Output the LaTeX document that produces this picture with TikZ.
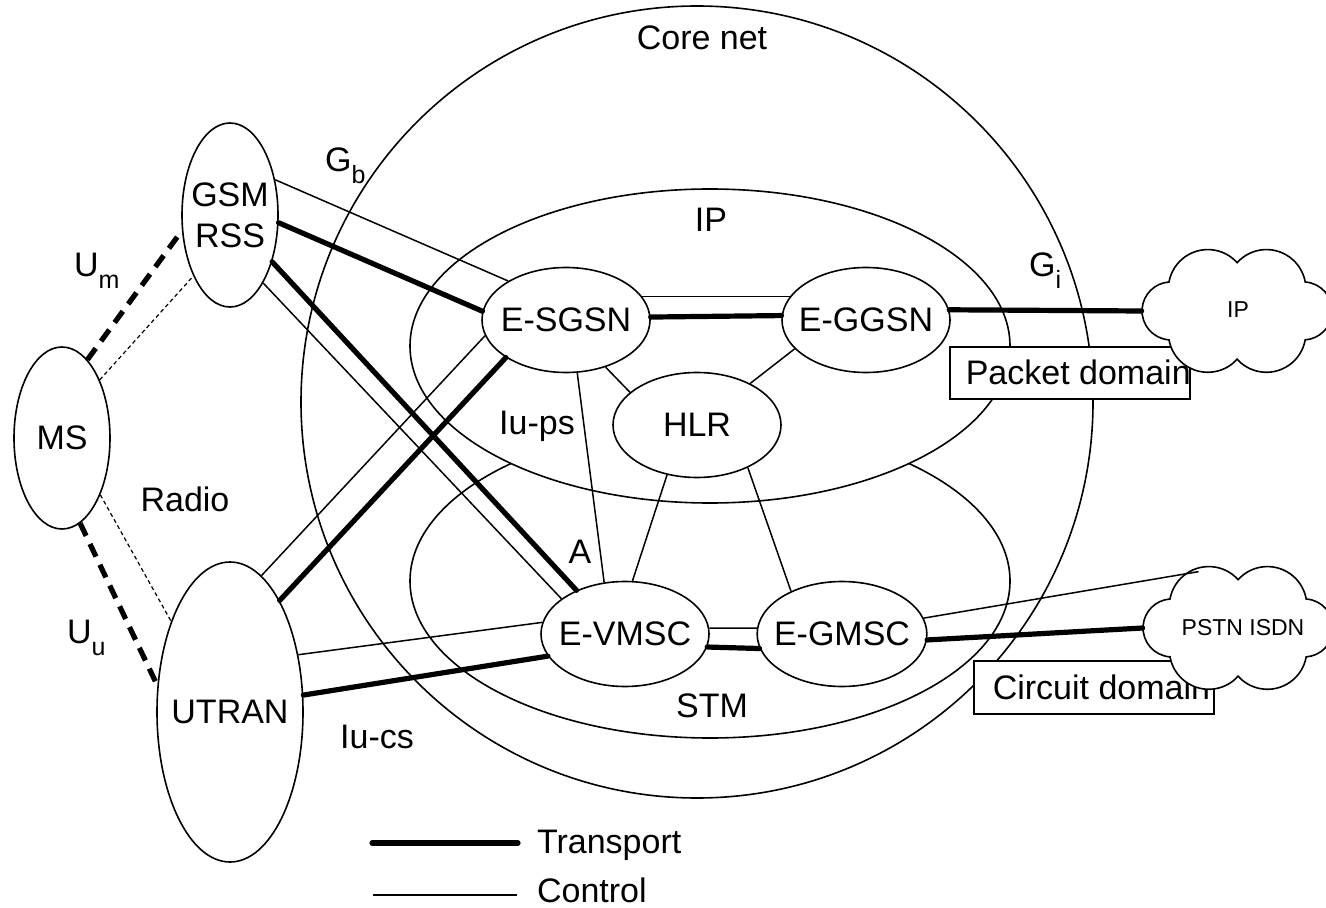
\documentclass[tikz,border=0pt]{standalone}
\usepackage{fontspec}
\setmainfont{Liberation Sans}
\usetikzlibrary{shapes.geometric}
\newcommand{\lowidx}[1]{\raisebox{-6pt}{\fontsize{12.5}{14}\selectfont #1}}
% six puffs round the centre of a cloud node
\newcommand{\cloudoutline}{(-68,-29) arc[start angle=190.2,end angle=318.1,radius=39.4]
  arc[start angle=221.9,end angle=349.8,radius=39.4]
  arc[start angle=274,end angle=446,radius=29]
  arc[start angle=10.2,end angle=138.1,radius=39.4]
  arc[start angle=41.9,end angle=169.8,radius=39.4]
  arc[start angle=94,end angle=266,radius=29] -- cycle}

\begin{document}
\begin{tikzpicture}[x=0.5pt,y=-0.5pt,
  font=\fontsize{17}{20.5}\selectfont,
  netnode/.style={draw,ellipse,line width=0.8pt,fill=white,inner xsep=-4pt,inner ysep=0pt,
    minimum width=84pt,minimum height=52.5pt},
  termnode/.style={netnode,minimum width=48pt,minimum height=92pt,align=center},
  netzone/.style={draw,ellipse,line width=0.8pt,fill=white,minimum width=300pt,minimum height=157pt},
  netcloud/.style={ellipse,inner sep=0pt,minimum width=95pt,minimum height=61.5pt},
  cloudline/.style={draw,line width=0.8pt,fill=white},
  cloudtext/.style={font=\fontsize{11.5}{13}\selectfont},
  domainbox/.style={draw,line width=0.8pt,fill=white,anchor=north west,inner ysep=0pt,minimum height=26pt},
  ctrl/.style={line width=0.75pt},
  trsp/.style={line width=2.6pt,line cap=round},
  air/.style={line width=0.6pt,dash pattern=on 2pt off 1.5pt},
  airbold/.style={line width=2.6pt,dash pattern=on 7pt off 4.5pt}]
\useasboundingbox (0,0) rectangle (1326,908);
\def\coreR{396pt} % core net diameter

% zones
\node[draw,circle,line width=0.8pt,minimum size=\coreR] (core) at (697,402) {};
\node[netzone] (stm) at (710,581) {};
\node[netzone] (ipzone) at (710,346) {};
\node[anchor=base] (corelbl) at (702,50) {Core net};
\node[anchor=base] (iplbl) at (711,232) {IP};
\node[anchor=base] (stmlbl) at (712,717) {STM};

% access side
\node[termnode,minimum height=91pt] (ms) at (62,438) {MS};
\node[termnode] (gsm) at (230,215) {GSM\\RSS};
\node[termnode,minimum width=73pt,minimum height=150pt] (utran) at (230,712) {UTRAN};

% core elements
\node[netnode] (sgsn) at (566,320) {E-SGSN};
\node[netnode] (ggsn) at (866,320) {E-GGSN};
\node[netnode] (hlr) at (697,425) {HLR};
\node[netnode] (vmsc) at (625,634) {E-VMSC};
\node[netnode] (gmsc) at (842,634) {E-GMSC};

% radio links
\draw[airbold] (ms.72.6) -- (gsm.198.8);
\draw[air] (ms.57.7) -- (gsm.239.6);
\draw[airbold] (ms.-78.6) -- (utran.160.9);
\draw[air] (ms.-56) -- (utran.123.5);

\draw[ctrl] (gsm.38.5) -- (sgsn.146.8);
\draw[trsp] (gsm.-9.9) -- (sgsn.174.5);
\draw[trsp] (gsm.-48.3) -- (vmsc.138.8);
\draw[ctrl] (gsm.-64.1) -- (vmsc.151.7);
\draw[ctrl] (utran.77.8) -- (sgsn.191.9);
\draw[trsp] (utran.66.5) -- (sgsn.212);
\draw[ctrl] (utran.40.9) -- (vmsc.172.5);
\draw[trsp] (utran.13.3) -- (vmsc.196.6);

\draw[ctrl] (sgsn.17.5) -- (ggsn.163.6);
\draw[trsp] (sgsn.2.8) -- (ggsn.177.2);
\draw[ctrl] (sgsn.-50.3) -- (hlr.154.5);
\draw[ctrl] (ggsn.202.2) -- (hlr.38.4);
\draw[ctrl] (sgsn.-78.3) -- (vmsc.112.9);
\draw[ctrl] (hlr.239.4) -- (vmsc.82.5);
\draw[ctrl] (hlr.-40) -- (gmsc.140.5);
\draw[ctrl] (vmsc.4) -- (gmsc.176);
\draw[trsp] (vmsc.-9.1) -- (gmsc.190);

% interface labels
\node[anchor=base west] (um) at (67,277) {U\lowidx{m}};
\node[anchor=base west] (uu) at (60,643) {U\lowidx{u}};
\node[anchor=base west] (gb) at (318,172) {G\lowidx{b}};
\node[anchor=base west] (gi) at (1022,277) {G\lowidx{i}};
\node[anchor=base] (radiolbl) at (185,511) {Radio};
\node[anchor=base] (alabel) at (580,563) {A};
\node[anchor=base] (iupslbl) at (537,435) {Iu-ps};
\node[anchor=base] (iucslbl) at (377,748) {Iu-cs};

% external networks
\node[domainbox,inner xsep=8pt] (pktbox) at (949,346) {\makebox[104pt][l]{Packet domain}};
\node[domainbox,inner xsep=9.5pt,minimum height=26.5pt] (cctbox) at (973,660) {\makebox[101pt][l]{Circuit domain}};
\node[netcloud] (ipcloud) at (1237,311) {};
\node[netcloud] (pstn) at (1238,628) {};
\begin{scope}[shift={(ipcloud.center)}]
  \path[cloudline] \cloudoutline;
\end{scope}
\begin{scope}[shift={(pstn.center)}]
  \path[cloudline] \cloudoutline;
\end{scope}
\node[cloudtext] (iptext) at (1238,310) {IP};
\node[cloudtext] (pstntext) at (1243,628) {PSTN ISDN};
\draw[trsp] (ggsn.7.7) -- (ipcloud.west);
\draw[ctrl] (gmsc.11.2) -- (pstn.125);
\draw[trsp] (gmsc.-4.2) -- (pstn.west);

% legend
\coordinate (trspA) at (372,843);
\coordinate (trspB) at (518,843);
\coordinate (ctrlA) at (373,895);
\coordinate (ctrlB) at (517,895);
\draw[trsp] (trspA) -- (trspB);
\draw[ctrl] (ctrlA) -- (ctrlB);
\node[anchor=base west] (trsplbl) at (530,853) {Transport};
\node[anchor=base west] (ctrllbl) at (530,902) {Control};
\end{tikzpicture}
\end{document}
